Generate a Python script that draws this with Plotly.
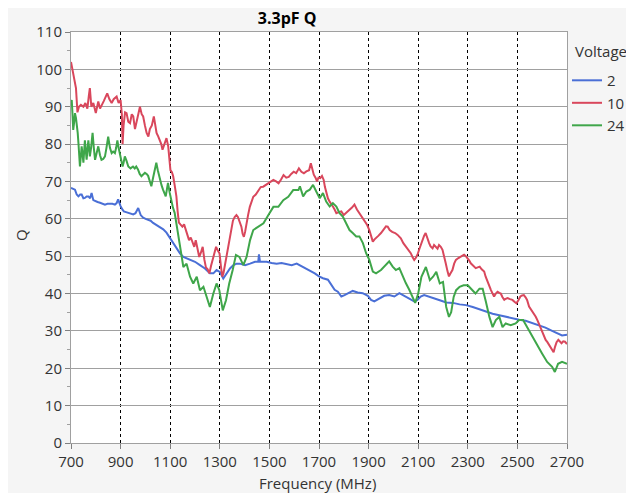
import plotly.graph_objects as go

# ---- data ----
freq_2 = [700,708,716,723,730,737,743,750,756,763,770,777,783,790,797,807,817,827,837,847,857,867,877,884,890,895,900,907,913,922,931,941,951,960,971,981,991,1001,1011,1021,1031,1041,1052,1062,1072,1085,1099,1112,1125,1140,1153,1166,1180,1200,1220,1240,1260,1274,1287,1300,1314,1328,1341,1355,1368,1381,1402,1422,1442,1455,1458,1462,1469,1489,1509,1529,1549,1570,1590,1610,1630,1643,1663,1683,1700,1716,1736,1749,1763,1776,1790,1803,1816,1836,1856,1876,1897,1910,1923,1943,1963,1983,2004,2024,2044,2064,2084,2097,2110,2124,2144,2164,2187,2213,2240,2267,2293,2320,2347,2373,2400,2427,2453,2480,2507,2533,2560,2587,2613,2640,2660,2680,2700]
q_2 = [68.3,68,67.8,66.5,66,66.5,66.5,65.5,65.6,66,66,65.5,66.9,65,64.7,64.5,64.3,64,63.8,64,64.1,64,63.8,64.2,65.2,64,63.4,62.5,62,61.8,61.6,61.3,61.2,61.5,62.9,61,60.3,60,59.8,59.5,58.9,58.5,58,57.6,57.2,56.3,54.9,53.6,52.3,50.7,49.8,49.4,48.9,48.5,47.6,46.7,45.4,45.4,46.3,45.8,44,45.4,46.7,47.6,48,48,47.6,48,48.5,48.5,50.5,48.5,48.5,48.5,48.2,48,48.2,47.8,47.6,48,47.3,46.8,46.3,45.4,44.6,44.1,43.7,42.3,41,40.5,39.2,39.6,40.1,40.7,40.3,40.1,39.4,38.3,37.9,38.75,39.4,39.6,39.2,40.1,39.4,38.75,37.9,38.3,39.2,39.6,39.2,38.75,38.2,37.6,37.5,37.1,36.9,36.4,35.8,35.1,34.6,34.2,33.75,33.3,33,32.7,32.1,31.5,30.9,30,29.3,28.8,29]

freq_10 = [700,706,712,720,726,732,740,750,758,766,772,776,782,790,800,810,817,823,832,846,855,864,872,884,892,900,905,908,912,918,924,931,938,945,951,958,964,971,978,985,991,998,1005,1012,1018,1026,1034,1040,1045,1052,1058,1064,1069,1077,1085,1092,1097,1101,1107,1112,1118,1125,1130,1135,1141,1149,1156,1163,1170,1176,1183,1190,1197,1203,1210,1217,1224,1231,1238,1244,1251,1258,1265,1271,1278,1285,1292,1299,1305,1310,1315,1319,1326,1333,1340,1346,1353,1360,1367,1373,1380,1387,1392,1397,1402,1407,1414,1421,1428,1435,1445,1455,1465,1475,1485,1496,1506,1516,1527,1537,1547,1557,1568,1578,1588,1598,1608,1619,1629,1639,1649,1660,1667,1673,1679,1686,1692,1698,1705,1712,1719,1724,1729,1736,1743,1750,1756,1763,1770,1780,1790,1800,1810,1817,1823,1833,1843,1853,1863,1873,1883,1893,1903,1910,1917,1924,1930,1940,1950,1960,1970,1977,1985,1995,2007,2017,2030,2040,2050,2060,2070,2077,2084,2090,2097,2105,2117,2124,2130,2137,2144,2150,2158,2164,2171,2178,2184,2191,2198,2205,2211,2218,2224,2231,2238,2245,2252,2262,2272,2285,2292,2299,2306,2312,2322,2332,2340,2348,2356,2366,2372,2379,2386,2393,2400,2406,2413,2420,2427,2433,2440,2447,2453,2460,2470,2480,2488,2496,2504,2512,2519,2526,2533,2539,2547,2554,2561,2568,2574,2581,2588,2595,2601,2608,2614,2621,2628,2634,2641,2646,2652,2658,2665,2672,2678,2685,2692,2700]
q_10 = [102,100,97.5,95,88.5,90,90.5,90,91,89.5,93,95,90,91,88.3,91.4,89.5,90.5,91.5,93.6,92,91,92,92.7,91,91.8,88,80,85,88.5,88.3,86,85.6,88,87.4,84,86,88,90,88,87.4,85,83,82,84,85,87.4,85,83,82,81,80,78.5,80,81.6,79.4,76,73,72.5,71.4,69,66,62,59,58.5,57.9,58.5,57,55.5,54.3,55,53.4,52.5,54.3,52,49.8,51,52.5,49,47,46.5,45.4,47.5,49,51,52.5,51.5,50.7,47,44.5,45.5,47,49.5,52.5,55,57.9,59.5,60.5,61,60.5,59,57.9,56,55.2,56.5,58.8,61,63.2,64.5,65.9,66.5,67.7,68.5,68.6,69,69.5,70,70.4,70,69.5,70.5,71.7,71,71.2,72,72.6,72.2,73.5,72.6,72.2,72.7,73,74.9,73,71.8,71,70,71,70.9,71.5,70.4,68.5,66.9,65.5,64.6,64,63.3,62.5,61.5,61.8,62,61,61.5,62,62.4,63,63.8,62.5,61.5,60.5,59.7,58.5,57,55.5,53.9,54.5,54.8,55.5,56.2,57,58,57.9,57,56.5,56.2,55.7,54.8,53.5,52.6,51.5,50.8,49.8,49,49.5,50.4,52,54.4,55.5,56.2,54.5,53.5,52.6,52.1,53,52.6,52,53,52.5,51.7,50,48.1,46,44.6,45.5,46.3,48,49,49.5,49.9,50.4,50,49.5,48.8,48.1,47.5,46.8,47,47.2,46.5,45.9,44.5,43.2,42,41,40,39.2,40,40.5,40.2,40,39,38.3,38.6,38.8,38.5,38.3,37.8,37.4,38.2,39.2,39.5,39.6,39,38.3,36.5,35.8,35.2,34.5,33.8,32.8,31.6,30.5,29.4,28.5,27.6,27,26.2,25.5,24.5,24.3,25.8,27,27.6,27,26.7,27.2,27.1,26.5]

freq_24 = [700,703,706,709,713,716,720,723,727,730,733,736,740,743,747,750,753,756,760,763,767,770,773,776,781,787,792,797,803,810,817,823,830,837,843,850,857,864,870,877,882,887,892,897,903,908,912,917,924,931,940,950,957,963,970,977,984,991,998,1005,1011,1018,1024,1031,1038,1044,1050,1058,1065,1071,1077,1082,1087,1091,1098,1105,1111,1118,1125,1132,1138,1145,1153,1166,1180,1193,1207,1220,1234,1247,1260,1274,1287,1298,1305,1312,1325,1338,1352,1365,1379,1395,1408,1422,1435,1455,1476,1496,1516,1536,1556,1576,1596,1617,1623,1636,1649,1663,1676,1689,1703,1716,1729,1743,1756,1770,1783,1796,1810,1823,1836,1850,1863,1877,1890,1903,1917,1930,1950,1970,1983,1997,2010,2024,2037,2050,2064,2077,2088,2100,2113,2131,2147,2160,2173,2187,2200,2213,2224,2233,2243,2253,2267,2283,2300,2313,2331,2347,2360,2373,2387,2400,2413,2427,2440,2453,2473,2493,2507,2523,2540,2560,2580,2600,2620,2640,2651,2664,2680,2700]
q_24 = [91,91.8,88,83.8,86,88.3,87,85.6,83,80.3,77,74,77,79.4,77,75,78,81,78,75.8,79,81,79,76.7,79,83,79,75.8,77.5,79.4,77,75.8,76,76.7,79,82,79,77.6,78,77.6,79,81,79,77.6,76,74,75,76.7,75.5,74,73.5,74,73.5,74,73.2,72,71.4,72,72.3,72,71.5,70,68.7,71,73,75,73,70.5,69,67.8,67,66,68,69.6,67,64.3,63,61.6,59,56.3,53.5,50.5,47.1,48,44.5,42.7,44.5,40.9,41.8,39.1,36.4,40,42.7,40.9,38,35.5,38.2,42.7,46.3,50.3,49.8,47.6,49.8,54.3,57,57.9,58.8,61,63.2,63.2,65,65.9,67.7,67.7,68.7,66,67.3,67.8,69.1,67.3,65.5,66.9,64.6,63.3,64.2,63.3,61.5,60.6,58.8,57,56.2,55.3,55.3,53.5,50.8,49,45.9,45.4,46.3,47.7,48.6,47.2,46.3,46.8,44.6,42.8,41,39.2,37.5,40,44.5,47.1,43.6,44.5,45.8,42.7,43.1,36.4,33.75,35,39.1,40.9,41.8,42.2,42.2,41.3,40,41.3,41.3,37.8,33.75,31,32.9,33.75,31,32,31.5,32,32.9,32.9,31,28.4,26.2,23.9,21.7,20.4,19,21.2,21.7,21.2]

series_names = ["2", "10", "24"]
series_colors = ["#4a6fd6", "#d9475c", "#3fa64a"]

x_ticks = [700, 900, 1100, 1300, 1500, 1700, 1900, 2100, 2300, 2500, 2700]
y_ticks = [0, 10, 20, 30, 40, 50, 60, 70, 80, 90, 100, 110]

FONT = "Open Sans"

fig = go.Figure()
for name, xs, ys, col in zip(series_names, [freq_2, freq_10, freq_24], [q_2, q_10, q_24], series_colors):
    fig.add_trace(go.Scatter(x=xs, y=ys, mode="lines", name=name,
                             line=dict(color=col, width=2)))

# the page places the figure 8px in from the top-left corner
fig.update_layout(
    width=626, height=485,
    margin=dict(l=63, r=67, t=24, b=50, autoexpand=False),
    paper_bgcolor="#f5f5f5", plot_bgcolor="white",
    font=dict(family=FONT, size=15, color="#333333"),
    title=dict(text="<b>3.3pF Q</b>", x=0.446, xanchor="center", y=0.979, yanchor="middle",
               font=dict(family=FONT, size=16, color="black")),
    legend=dict(x=1.0, xanchor="left", y=0.922, yanchor="top",
                bgcolor="rgba(0,0,0,0)", font=dict(size=15),
                itemwidth=30, tracegroupgap=0),
    showlegend=True,
    annotations=[
        dict(text="Voltage", xref="paper", yref="paper", x=(573 - 71) / 496, y=(443 - 51) / 411,
             showarrow=False, font=dict(size=15, color="#333333"),
             xanchor="left", yanchor="middle"),
        dict(text="Q", xref="paper", yref="paper", x=(21 - 71) / 496, y=(443 - 235) / 411,
             showarrow=False, textangle=-90, font=dict(size=15, color="#333333"),
             xanchor="center", yanchor="middle"),
        dict(text="Frequency (MHz)", xref="paper", yref="paper", x=(317 - 71) / 496,
             y=(443 - 483) / 411, showarrow=False, font=dict(size=15, color="#333333"),
             xanchor="center", yanchor="middle"),
    ],
)
fig.update_xaxes(
    range=[700, 2700], tickvals=x_ticks, ticktext=[str(v) for v in x_ticks],
    showgrid=True, gridcolor="black", griddash="dot", gridwidth=1,
    showline=True, linecolor="#a0a0a0", linewidth=1, mirror=True,
    ticks="outside", ticklen=5, tickcolor="#808080", automargin=False,
    zeroline=False,
)
fig.update_yaxes(
    range=[0, 110], tickvals=y_ticks, ticktext=[str(v) for v in y_ticks],
    showgrid=True, gridcolor="#a0a0a0", gridwidth=1,
    showline=True, linecolor="#a0a0a0", linewidth=1, mirror=True,
    ticks="outside", ticklen=5, tickcolor="#808080", automargin=False,
    minor=dict(dtick=5, ticks="outside", ticklen=3, tickcolor="#a0a0a0", showgrid=False),
    zeroline=False,
)

fig.write_html("out.html")
